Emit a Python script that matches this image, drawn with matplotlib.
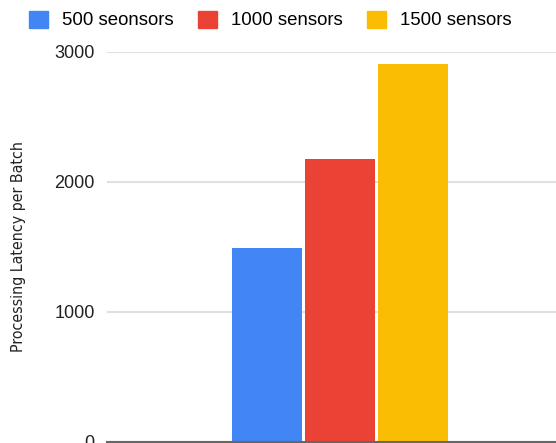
import matplotlib.pyplot as plt
from matplotlib.patches import Patch

series = ["500 seonsors", "1000 sensors", "1500 sensors"]
latency = [1490, 2180, 2910]
colors = ["#4285f4", "#ea4335", "#fbbc04"]
yticks = [0, 1000, 2000, 3000]

W, H = 556, 443
fig = plt.figure(figsize=(W / 100, H / 100), dpi=100)
ax = fig.add_axes([107 / W, 1.3 / H, (W - 107) / W, (441.7 - 52) / H])

bar_w = 0.150
step = 0.157
for i, (name, val, col) in enumerate(zip(series, latency, colors)):
    ax.bar((i - 1) * step, val, width=bar_w, color=col, label=name, zorder=3)

ax.set_xlim(-0.5, -0.5 + (W - 107) / 466)
ax.set_ylim(0, 3000)
ax.set_yticks(yticks)
ax.set_xticks([])
ax.grid(axis="y", color="#e0e0e0", linewidth=1.5, zorder=0)
for s in ["top", "right", "left"]:
    ax.spines[s].set_visible(False)
ax.spines["bottom"].set_color("#666666")
ax.spines["bottom"].set_linewidth(1.5)
ax.spines["bottom"].set_zorder(4)
ax.tick_params(axis="y", length=0, pad=9, labelsize=13, labelcolor="#222222")
for lbl in ax.get_yticklabels():
    lbl.set_family(["Liberation Sans", "DejaVu Sans"])

fig.text(19 / W, 1 - 247 / H, "Processing Latency per Batch", rotation=90,
         ha="center", va="center", fontsize=11.4, color="#222222",
         fontstretch="condensed", family=["DejaVu Sans"])

handles = [Patch(facecolor=c, edgecolor=c) for c in colors]
fig.legend(handles, series, loc="center left", bbox_to_anchor=(12 / W, 1 - 20 / H),
           ncol=3, frameon=False, handlelength=1.05, handleheight=1.05,
           handletextpad=0.75, columnspacing=1.28,
           prop={"family": ["Liberation Sans", "DejaVu Sans"], "size": 13.4})

fig.savefig("out.png", dpi=100)
